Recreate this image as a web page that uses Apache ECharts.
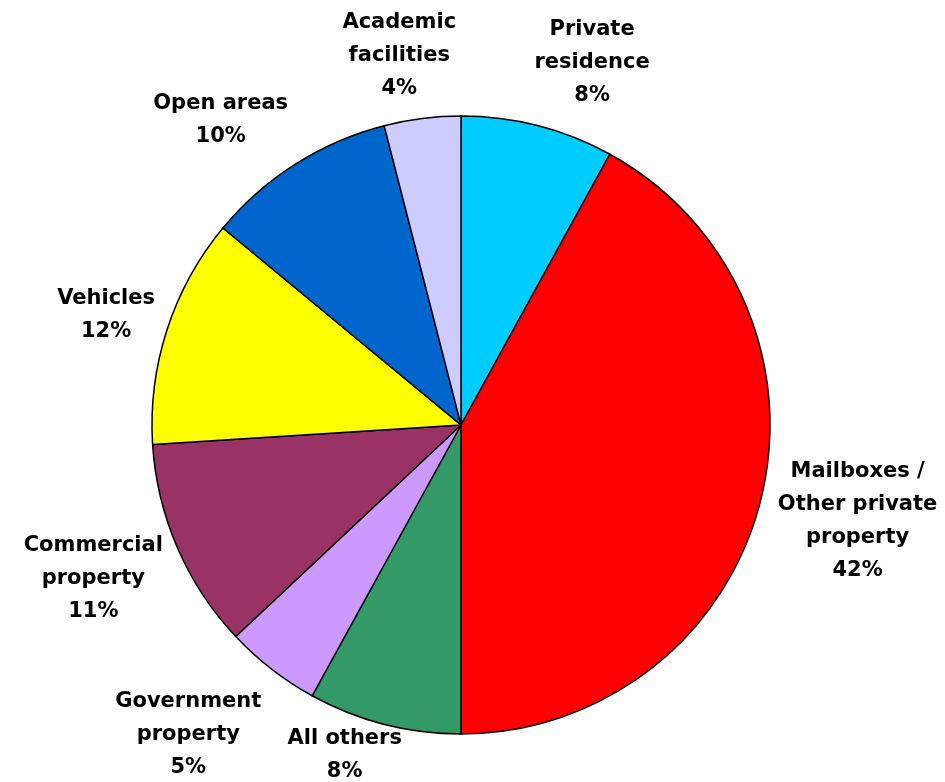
<!DOCTYPE html>
<html>
<head>
<meta charset="utf-8">
<script src="https://cdn.jsdelivr.net/npm/echarts@6/dist/echarts.min.js"></script>
<style>
  html, body { margin: 0; padding: 0; background: #fff; }
  #chart { width: 945px; height: 782px; }
</style>
</head>
<body>
<div id="chart"></div>
<script>
const CATEGORIES = [
  'Private\nresidence',
  'Mailboxes /\nOther private\nproperty',
  'All others',
  'Government\nproperty',
  'Commercial\nproperty',
  'Vehicles',
  'Open areas',
  'Academic\nfacilities'
];
const SHARES = [8, 42, 8, 5, 11, 12, 10, 4];
const COLORS = ['#00CCFF', '#FF0000', '#339966', '#CC99FF', '#993366', '#FFFF00', '#0066CC', '#CCCCFF'];

const CX = 461;
const CY = 425;
const R = 309;
const LABEL_GAP = 6;
// labels get spread apart a bit like the original layout (degrees / px)
const LABEL_NUDGE = [5.5, -0.8, 5, 3.6, 0.8, -0.8, -5.8, -2.3];
const LABEL_PUSH = [4, 0, -15, 12, 0, 0, 6, 1];

let total = SHARES.reduce((a, b) => a + b, 0);

// mid angle of every slice, clockwise from 12 o'clock
let midAngles = [];
~function() {
  let acc = 0;
  SHARES.forEach((v, i) => {
    midAngles.push((acc + v / 2) / total * Math.PI * 2 + LABEL_NUDGE[i] * Math.PI / 180);
    acc += v;
  });
}();

let chart = echarts.init(document.getElementById('chart'), null, { renderer: 'canvas' });

chart.setOption({
  backgroundColor: '#fff',
  animation: false,
  series: [{
    type: 'pie',
    center: [CX, CY],
    radius: [0, R],
    startAngle: 90,
    clockwise: true,
    avoidLabelOverlap: false,
    itemStyle: { borderColor: '#000', borderWidth: 1.5 },
    label: {
      show: true,
      position: 'outside',
      formatter: '{b}\n{c}%',
      fontFamily: 'DejaVu Sans, Arial, sans-serif',
      fontWeight: 'bold',
      fontSize: 21,
      lineHeight: 33,
      color: '#000',
      align: 'center'
    },
    labelLine: { show: false },
    labelLayout: params => {
      let i = params.dataIndex;
      let a = midAngles[i];
      let sx = Math.sin(a);
      let sy = -Math.cos(a);
      let w = params.labelRect.width / 2;
      let h = params.labelRect.height / 2;
      let d = R + LABEL_GAP + LABEL_PUSH[i] + Math.abs(sx) * w + Math.abs(sy) * h;
      return {
        x: CX + sx * d,
        y: CY + sy * d,
        align: 'center',
        verticalAlign: 'middle'
      };
    },
    data: CATEGORIES.map((name, i) => ({
      name: name,
      value: SHARES[i],
      itemStyle: { color: COLORS[i] }
    }))
  }]
});
</script>
</body>
</html>
